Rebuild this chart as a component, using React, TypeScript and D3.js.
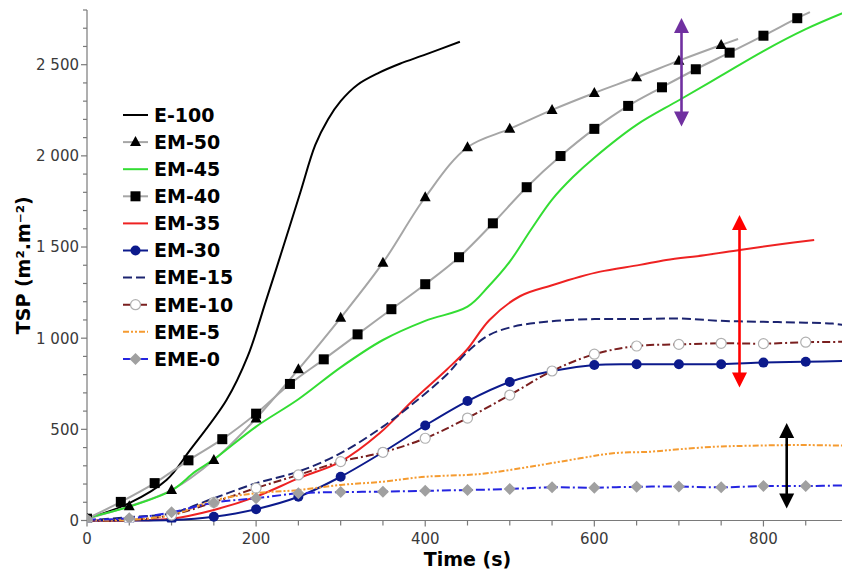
import React from "react";
import * as d3 from "d3";

// ---------- DATA ----------
const E100_T = [0, 50, 94, 122, 165, 190, 212, 232, 252, 270, 285, 300, 320, 345, 370, 400, 441];
const E100_V = [10, 95, 222, 387, 661, 900, 1210, 1500, 1795, 2060, 2200, 2300, 2390, 2455, 2505, 2555, 2626];

const EM50_T = [0, 50, 100, 150, 200, 250, 300, 350, 400, 450, 500, 550, 600, 650, 700, 750, 770];
const EM50_V = [10, 78, 167, 332, 560, 829, 1112, 1414, 1773, 2047, 2148, 2252, 2345, 2431, 2522, 2608, 2641];

const EM45_T = [0, 50, 100, 128, 150, 200, 250, 300, 350, 400, 450, 475, 500, 525, 550, 575, 600, 650, 700, 750, 800, 850, 900];
const EM45_V = [15, 76, 165, 268, 335, 515, 665, 840, 990, 1095, 1173, 1285, 1420, 1595, 1760, 1885, 1990, 2170, 2305, 2440, 2575, 2695, 2795];

const EM40_T = [0, 40, 80, 120, 160, 200, 240, 280, 320, 360, 400, 440, 480, 520, 560, 600, 640, 680, 720, 760, 800, 840, 855];
const EM40_V = [10, 102, 205, 330, 446, 586, 749, 884, 1021, 1159, 1296, 1444, 1630, 1828, 1999, 2148, 2274, 2376, 2475, 2566, 2659, 2755, 2788];

const EM35_T = [0, 50, 100, 150, 200, 250, 300, 346, 386, 425, 449, 476, 512, 550, 583, 607, 654, 685, 730, 772, 820, 860];
const EM35_V = [0, 0, 10, 58, 131, 231, 323, 478, 661, 826, 935, 1100, 1230, 1290, 1337, 1365, 1402, 1429, 1455, 1484, 1515, 1539];

const EM30_T = [0, 50, 100, 150, 200, 250, 300, 350, 400, 450, 500, 550, 600, 650, 700, 750, 800, 850, 900];
const EM30_V = [0, 0, 3, 21, 62, 130, 240, 375, 521, 655, 760, 820, 853, 857, 857, 857, 866, 871, 875];

const EME15_T = [0, 50, 100, 150, 200, 250, 300, 350, 386, 425, 450, 476, 504, 543, 600, 650, 700, 750, 800, 850, 882, 900];
const EME15_V = [0, 18, 40, 122, 204, 268, 369, 515, 643, 798, 926, 1018, 1063, 1090, 1105, 1105, 1108, 1095, 1090, 1085, 1080, 1068];

const EME10_T = [0, 50, 100, 150, 200, 250, 300, 350, 400, 450, 500, 550, 600, 650, 700, 750, 800, 850, 900];
const EME10_V = [0, 2, 30, 100, 178, 250, 323, 374, 451, 562, 688, 820, 912, 957, 966, 972, 970, 978, 980];

const EME5_T = [0, 50, 100, 150, 200, 250, 300, 350, 400, 465, 524, 583, 622, 665, 701, 744, 784, 843, 900];
const EME5_V = [2, 3, 30, 110, 150, 167, 195, 213, 240, 255, 295, 341, 369, 377, 391, 405, 410, 414, 410];

const EME0_T = [0, 50, 100, 150, 200, 250, 300, 350, 400, 450, 500, 550, 600, 650, 700, 750, 800, 850, 900];
const EME0_V = [5, 12, 45, 98, 122, 149, 156, 158, 163, 167, 173, 182, 180, 185, 186, 182, 189, 189, 193];

const SERIES_NAMES = ["E-100", "EM-50", "EM-45", "EM-40", "EM-35", "EM-30", "EME-15", "EME-10", "EME-5", "EME-0"];

const Y_TICKS = [0, 500, 1000, 1500, 2000, 2500];
const X_TICKS = [0, 200, 400, 600, 800];

// ---------- STYLE ----------
type Marker = "none" | "triangle" | "square" | "circle" | "ocircle" | "diamond";
interface Style {
  color: string;
  width: number;
  dash?: string;
  marker: Marker;
  markerStep?: number;
  markerFill?: string;
  markerStroke?: string;
}

const STYLES: Style[] = [
  { color: "#000000", width: 2, marker: "none" },
  { color: "#a6a6a6", width: 2, marker: "triangle", markerStep: 50, markerFill: "#000" },
  { color: "#33dd33", width: 2, marker: "none" },
  { color: "#a6a6a6", width: 2, marker: "square", markerStep: 40, markerFill: "#000" },
  { color: "#ee2222", width: 2, marker: "none" },
  { color: "#0c1a8c", width: 2, marker: "circle", markerStep: 50, markerFill: "#0c1a8c" },
  { color: "#1c2470", width: 2, dash: "9,4", marker: "none" },
  { color: "#7a1f1f", width: 2, dash: "8,3,2,3", marker: "ocircle", markerStep: 50, markerFill: "#fff", markerStroke: "#b0b0b0" },
  { color: "#f59b30", width: 2, dash: "6,2,2,2,2,2", marker: "none" },
  { color: "#2424e0", width: 2, dash: "9,3,2,3", marker: "diamond", markerStep: 50, markerFill: "#a0a0a0" },
];

const DATA: [number[], number[]][] = [
  [E100_T, E100_V],
  [EM50_T, EM50_V],
  [EM45_T, EM45_V],
  [EM40_T, EM40_V],
  [EM35_T, EM35_V],
  [EM30_T, EM30_V],
  [EME15_T, EME15_V],
  [EME10_T, EME10_V],
  [EME5_T, EME5_V],
  [EME0_T, EME0_V],
];

const W = 842;
const H = 579;
const X0 = 87;
const X1 = 848;
const Y0 = 520.5;
const Y1 = 10;

const FONT = "'DejaVu Sans', Verdana, sans-serif";

function MarkerShape({ type, x, y, s }: { type: Marker; x: number; y: number; s: Style }) {
  if (type === "triangle") {
    const p = d3.path();
    p.moveTo(x, y - 6);
    p.lineTo(x + 5.5, y + 4);
    p.lineTo(x - 5.5, y + 4);
    p.closePath();
    return <path d={p.toString()} fill={s.markerFill} />;
  }
  if (type === "square") {
    return <rect x={x - 5} y={y - 5} width={10} height={10} fill={s.markerFill} />;
  }
  if (type === "circle") {
    return <circle cx={x} cy={y} r={5} fill={s.markerFill} />;
  }
  if (type === "ocircle") {
    return <circle cx={x} cy={y} r={5} fill={s.markerFill} stroke={s.markerStroke} strokeWidth={1.2} />;
  }
  if (type === "diamond") {
    const p = d3.path();
    p.moveTo(x, y - 6);
    p.lineTo(x + 6, y);
    p.lineTo(x, y + 6);
    p.lineTo(x - 6, y);
    p.closePath();
    return <path d={p.toString()} fill={s.markerFill} />;
  }
  return null;
}

function Arrow({ x, yTop, yBot, color }: { x: number; yTop: number; yBot: number; color: string }) {
  const head = 15;
  const hw = 7.5;
  const up = d3.path();
  up.moveTo(x, yTop);
  up.lineTo(x + hw, yTop + head);
  up.lineTo(x - hw, yTop + head);
  up.closePath();
  const dn = d3.path();
  dn.moveTo(x, yBot);
  dn.lineTo(x + hw, yBot - head);
  dn.lineTo(x - hw, yBot - head);
  dn.closePath();
  return (
    <g>
      <line x1={x} x2={x} y1={yTop + head - 1} y2={yBot - head + 1} stroke={color} strokeWidth={2.6} />
      <path d={up.toString()} fill={color} />
      <path d={dn.toString()} fill={color} />
    </g>
  );
}

export default function App() {
  const x = d3.scaleLinear().domain([0, 900]).range([X0, X1]);
  const y = d3.scaleLinear().domain([0, 2800]).range([Y0, Y1]);
  const locale = d3.formatLocale({ thousands: "\u00a0", grouping: [3], decimal: ".", currency: ["", ""] });
  const fmt = locale.format(",");

  const line = d3
    .line<[number, number]>()
    .x((d) => x(d[0]))
    .y((d) => y(d[1]))
    .curve(d3.curveCatmullRom.alpha(0.5));

  const yMinor = d3.range(0, 2801, 100);
  const xMinor = d3.range(0, 901, 50);

  const legendX = 123;
  const legendY0 = 115;
  const legendDy = 27.1;

  return (
    <svg width={W} height={H} style={{ position: "absolute", left: 0, top: 0, background: "#fff" }}>
      <defs>
        <clipPath id="plot">
          <rect x={X0} y={0} width={X1 - X0} height={Y0 + 2} />
        </clipPath>
      </defs>
      <rect x={0} y={0} width={W} height={H} fill="#fff" />

      {/* axes */}
      <g stroke="#7a7a7a" strokeWidth={1.2}>
        <line x1={X0} x2={X0} y1={y(2800)} y2={Y0} />
        <line x1={X0} x2={X1} y1={Y0} y2={Y0} />
        {yMinor.map((v) => (
          <line key={"ym" + v} x1={X0 - (v % 500 === 0 ? 6 : 4)} x2={X0} y1={y(v)} y2={y(v)} />
        ))}
        {xMinor.map((v) => (
          <line key={"xm" + v} x1={x(v)} x2={x(v)} y1={Y0} y2={Y0 + (v % 200 === 0 ? 6 : 5)} />
        ))}
      </g>
      <g fontFamily={FONT} fontSize={15} fill="#3a3a3a">
        {Y_TICKS.map((v) => (
          <text key={"yt" + v} x={X0 - 8} y={y(v)} dy="0.36em" textAnchor="end">
            {fmt(v)}
          </text>
        ))}
        {X_TICKS.map((v) => (
          <text key={"xt" + v} x={x(v)} y={Y0 + 23} textAnchor="middle">
            {fmt(v)}
          </text>
        ))}
      </g>
      <text x={x(450)} y={566} textAnchor="middle" fontFamily={FONT} fontWeight="bold" fontSize={19} fill="#000">
        Time (s)
      </text>
      <text
        transform={`translate(30, ${y(1400)}) rotate(-90)`}
        textAnchor="middle"
        fontFamily={FONT}
        fontWeight="bold"
        fontSize={19}
        fill="#000"
      >
        TSP (m².m⁻²)
      </text>

      {/* series lines */}
      <g clipPath="url(#plot)">
        {DATA.map(([ts, vs], i) => {
          const s = STYLES[i];
          const pts: [number, number][] = ts.map((t, k) => [t, vs[k]]);
          return (
            <path
              key={"l" + i}
              d={line(pts) || ""}
              fill="none"
              stroke={s.color}
              strokeWidth={s.width}
              strokeDasharray={s.dash}
            />
          );
        })}
        {DATA.map(([ts, vs], i) => {
          const s = STYLES[i];
          if (s.marker === "none") return null;
          return (
            <g key={"m" + i}>
              {ts.map((t, k) =>
                s.markerStep && t % s.markerStep === 0 && t <= 860 ? (
                  <MarkerShape key={k} type={s.marker} x={x(t)} y={y(vs[k])} s={s} />
                ) : null
              )}
            </g>
          );
        })}
      </g>

      {/* arrows */}
      <Arrow x={681.5} yTop={18} yBot={126.5} color="#7030a0" />
      <Arrow x={739.5} yTop={215} yBot={387.5} color="#ff0000" />
      <Arrow x={786.7} yTop={423} yBot={508.5} color="#000000" />

      {/* legend */}
      <g>
        {SERIES_NAMES.map((name, i) => {
          const s = STYLES[i];
          const ly = legendY0 + i * legendDy;
          return (
            <g key={"lg" + i}>
              <line
                x1={legendX}
                x2={legendX + 25}
                y1={ly}
                y2={ly}
                stroke={s.color}
                strokeWidth={s.width}
                strokeDasharray={s.dash}
              />
              {s.marker !== "none" && <MarkerShape type={s.marker} x={legendX + 12.5} y={ly} s={s} />}
              <text x={154} y={ly} dy="0.36em" fontFamily={FONT} fontWeight="bold" fontSize={19} fill="#000">
                {name}
              </text>
            </g>
          );
        })}
      </g>
    </svg>
  );
}
